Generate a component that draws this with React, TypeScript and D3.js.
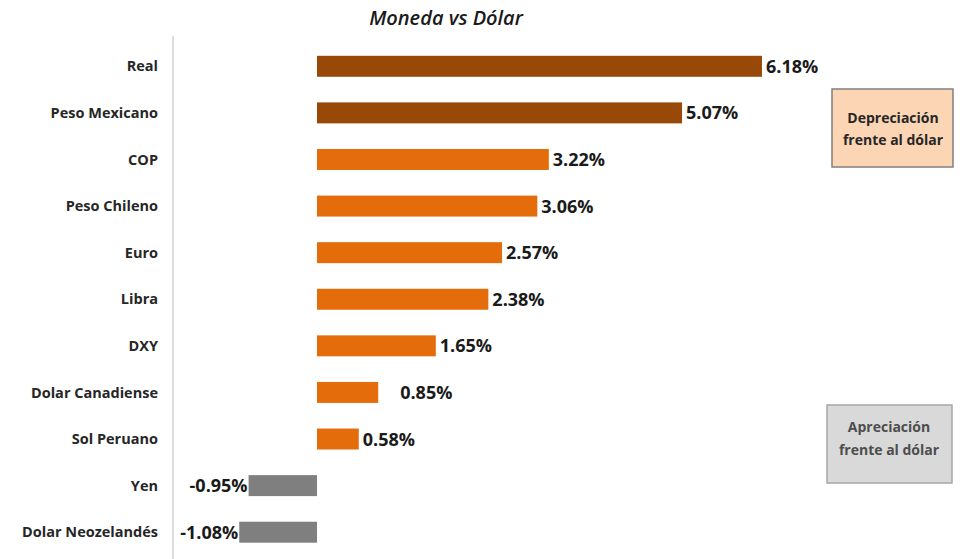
import React from "react";
import * as d3 from "d3";

const categories = [
  "Real",
  "Peso Mexicano",
  "COP",
  "Peso Chileno",
  "Euro",
  "Libra",
  "DXY",
  "Dolar Canadiense",
  "Sol Peruano",
  "Yen",
  "Dolar Neozelandés",
];
const values = [6.18, 5.07, 3.22, 3.06, 2.57, 2.38, 1.65, 0.85, 0.58, -0.95, -1.08];
const valueLabels = ["6.18%", "5.07%", "3.22%", "3.06%", "2.57%", "2.38%", "1.65%", "0.85%", "0.58%", "-0.95%", "-1.08%"];
const title = "Moneda vs Dólar";
const legendTop = ["Depreciación", "frente al dólar"];
const legendBottom = ["Apreciación", "frente al dólar"];

const W = 973;
const H = 559;
const FONT = "'Open Sans', Arial, sans-serif";

export default function App() {
  const x = d3.scaleLinear().domain([-2, 8]).range([173, 893]);
  const y = d3
    .scaleBand<string>()
    .domain(categories)
    .range([43, 555.5])
    .paddingInner(0.55)
    .paddingOuter(0.275);

  const colorFor = (i: number, v: number) =>
    v < 0 ? "#7f7f7f" : i < 2 ? "#984807" : "#e46c0a";

  return (
    <svg
      width={W}
      height={H}
      style={{ position: "absolute", left: 0, top: 0, background: "#fff" }}
    >
      <rect x={0} y={0} width={W} height={H} fill="#fff" />
      <text
        x={446}
        y={25}
        textAnchor="middle"
        fontFamily="'Open Sans', sans-serif"
        fontStyle="italic"
        fontWeight={600}
        fontSize={20}
        fill="#1a1a1a"
      >
        {title}
      </text>
      <line x1={x(-2)} x2={x(-2)} y1={36} y2={H} stroke="#d0d0d0" strokeWidth={1.5} />
      {categories.map((c, i) => {
        const v = values[i];
        const yy = y(c)!;
        const bw = y.bandwidth();
        const x0 = x(Math.min(0, v));
        const x1 = x(Math.max(0, v));
        const cy = yy + bw / 2;
        let lx = v >= 0 ? x1 + 4 : x0 - 1;
        if (c === "Dolar Canadiense") lx = x1 + 22;
        return (
          <g key={c}>
            <text
              x={158}
              y={cy}
              dy="0.35em"
              textAnchor="end"
              fontFamily={FONT}
              fontWeight={700}
              fontSize={14.5}
              fill="#262626"
            >
              {c}
            </text>
            <rect x={x0} y={yy} width={x1 - x0} height={bw} fill={colorFor(i, v)} />
            <text
              x={lx}
              y={cy}
              dy="0.36em"
              textAnchor={v >= 0 ? "start" : "end"}
              fontFamily={FONT}
              fontWeight={700}
              fontSize={18}
              fill="#1a1a1a"
            >
              {valueLabels[i]}
            </text>
          </g>
        );
      })}
      <g>
        <rect x={832} y={89} width={121} height={78} fill="#fcd5b5" stroke="#7f7f7f" strokeWidth={1.5} />
        {legendTop.map((t, k) => (
          <text
            key={k}
            x={893}
            y={123 + k * 22}
            textAnchor="middle"
            fontFamily={FONT}
            fontWeight={700}
            fontSize={14}
            fill="#262626"
          >
            {t}
          </text>
        ))}
      </g>
      <g>
        <rect x={827} y={405} width={125} height={78} fill="#d9d9d9" stroke="#a6a6a6" strokeWidth={1.5} />
        {legendBottom.map((t, k) => (
          <text
            key={k}
            x={889}
            y={432 + k * 23}
            textAnchor="middle"
            fontFamily={FONT}
            fontWeight={700}
            fontSize={14}
            fill="#4d4d4d"
          >
            {t}
          </text>
        ))}
      </g>
    </svg>
  );
}
